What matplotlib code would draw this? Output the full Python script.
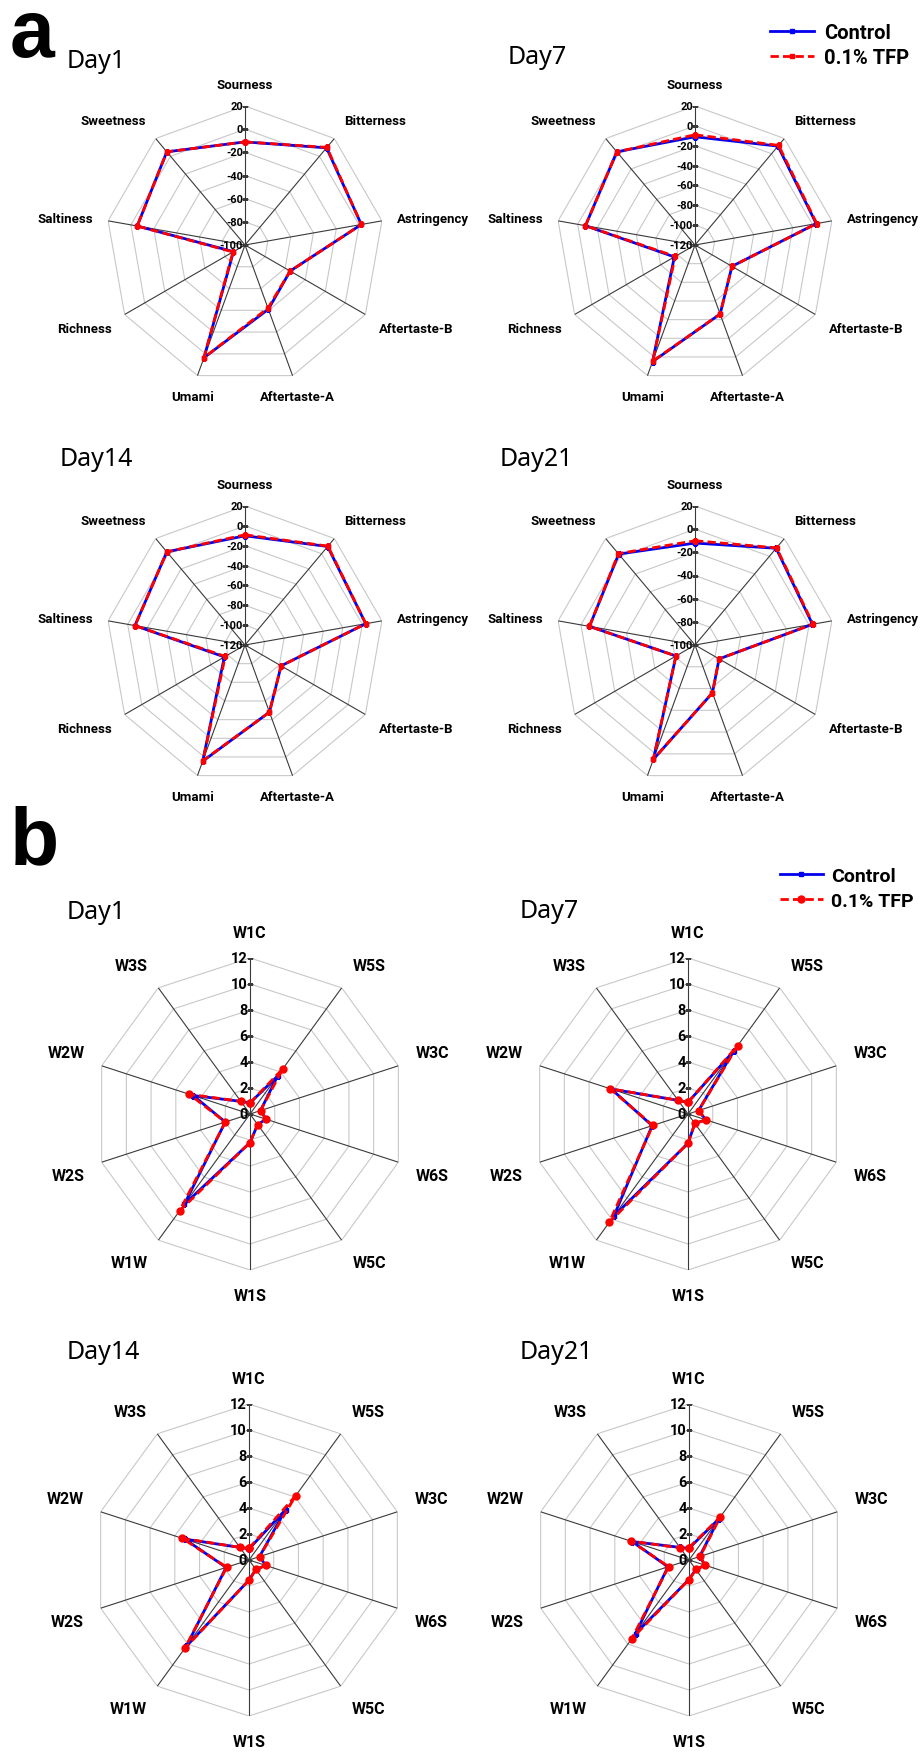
import numpy as np
import matplotlib
matplotlib.use("Agg")
import matplotlib.pyplot as plt

plt.rcParams['font.family'] = ['Roboto', 'DejaVu Sans']

W, H = 921, 1756

# ---- panel a: electronic tongue ----
taste_labels = ['Sourness', 'Bitterness', 'Astringency', 'Aftertaste-B', 'Aftertaste-A',
                'Umami', 'Richness', 'Saltiness', 'Sweetness']
taste_days = ['Day1', 'Day7', 'Day14', 'Day21']
taste_rmin = [-100, -120, -120, -100]
taste_ctrl = [
    [-11, 9.5, 2, -55, -41, 3.5, -88.5, -5.5, 5],
    [-11, 10, 4, -77, -46, 5, -96, -8, 2.5],
    [-10, 9.5, 3.5, -78, -48, 4.5, -96, -7.5, 2.5],
    [-12, 9, 3, -76, -56, 5, -81, -7.5, 2.5],
]
taste_tfp = [
    [-11, 10, 2, -55, -42, 3.5, -88, -5.5, 5],
    [-9, 11, 4.5, -77, -46, 4.5, -97, -8, 2.5],
    [-9, 10, 3.5, -78, -48, 4, -97, -7.5, 2.5],
    [-10, 9.5, 3.5, -76, -56, 5, -81, -7.5, 3],
]

# ---- panel b: electronic nose ----
sensor_labels = ['W1C', 'W5S', 'W3C', 'W6S', 'W5C', 'W1S', 'W1W', 'W2S', 'W2W', 'W3S']
sensor_days = ['Day1', 'Day7', 'Day14', 'Day21']
sensor_ctrl = [
    [0.85, 3.6, 0.85, 1.3, 1.0, 2.2, 8.6, 2.0, 4.6, 1.2],
    [0.9, 6.0, 0.85, 1.45, 0.9, 2.25, 9.7, 2.9, 6.2, 1.3],
    [0.85, 4.8, 0.85, 1.35, 0.9, 1.55, 8.2, 1.85, 5.2, 1.2],
    [0.9, 3.9, 0.85, 1.3, 0.9, 1.5, 7.0, 1.7, 4.6, 1.2],
]
sensor_tfp = [
    [0.85, 4.3, 0.85, 1.3, 1.0, 2.2, 9.2, 2.0, 4.9, 1.2],
    [0.9, 6.5, 0.85, 1.45, 0.9, 2.25, 10.3, 2.85, 6.3, 1.3],
    [0.9, 6.1, 0.85, 1.35, 0.9, 1.55, 8.4, 1.8, 5.4, 1.2],
    [0.95, 4.1, 0.9, 1.3, 0.9, 1.5, 7.5, 1.65, 4.7, 1.15],
]

BLUE = '#0000ee'
RED = '#ff0000'


def make_ax(fig, cx, cy, r):
    return fig.add_axes([(cx - r) / W, 1 - (cy + r) / H, 2 * r / W, 2 * r / H],
                        projection='polar')


def radar(ax, labels, ctrl, tfp, rmin, rmax, step, lab_fs, tick_fs, gap, tfp_marker, tfp_ms):
    n = len(labels)
    theta = np.arange(n) * 2 * np.pi / n
    th = np.append(theta, theta[0])
    ax.set_theta_zero_location('N')
    ax.set_theta_direction(-1)
    ax.set_ylim(rmin, rmax)
    ax.grid(False)
    ax.set_xticks([])
    ax.set_yticks([])
    ax.spines['polar'].set_visible(False)
    ax.patch.set_visible(False)

    levels = np.arange(rmin, rmax + step / 2, step)
    for lvl in levels[1:]:
        ax.plot(th, [lvl] * (n + 1), color='#c8c8c8', lw=0.8, zorder=1)
    for t in theta:
        ax.plot([t, t], [rmin, rmax], color='#3a3a3a', lw=0.8, zorder=1)
    ax.plot([0] * len(levels), levels, ls='none', marker='_', ms=4, mew=0.8,
            color='#3a3a3a', zorder=1)
    for lvl in levels:
        ax.annotate(f'{lvl:g}', xy=(0, lvl), xytext=(-1.5, 0), textcoords='offset points',
                    ha='right', va='center', fontsize=tick_fs, fontweight='bold',
                    annotation_clip=False, zorder=2)

    for t, lab in zip(theta, labels):
        s, c = np.sin(t), np.cos(t)
        ha = 'center' if abs(s) < 0.4 else ('left' if s > 0 else 'right')
        va = 'center' if abs(c) < 0.3 else ('bottom' if c > 0 else 'top')
        ax.annotate(lab, xy=(t, rmax), xytext=(gap * s, gap * c), textcoords='offset points',
                    ha=ha, va=va, fontsize=lab_fs, fontweight='bold', annotation_clip=False)

    lc, = ax.plot(th, np.append(ctrl, ctrl[0]), color=BLUE, lw=2.0, marker='s', ms=3.2,
                  zorder=3, label='Control')
    lt, = ax.plot(th, np.append(tfp, tfp[0]), color=RED, lw=2.0, ls=(0, (3, 1.5)),
                  marker=tfp_marker, ms=tfp_ms, zorder=4, label='0.1% TFP')
    return lc, lt


fig = plt.figure(figsize=(W / 100, H / 100), dpi=100)

a_centers = [(245, 246), (695, 246), (245, 646), (695, 646)]
a_titles = [(67, 61), (508, 58), (60, 460), (500, 460)]
for i in range(4):
    cx, cy = a_centers[i]
    ax = make_ax(fig, cx, cy, 139)
    handles = radar(ax, taste_labels, taste_ctrl[i], taste_tfp[i], taste_rmin[i], 20, 20,
                    9.5, 8, 11, 's', 3.2)
    tx, ty = a_titles[i]
    fig.text(tx / W, 1 - ty / H, taste_days[i], fontsize=18, family=['Noto Sans'],
             ha='left', va='center')
fig.legend(handles=handles, loc='upper left', bbox_to_anchor=(762 / W, 1 - 16 / H),
           frameon=False, prop={'weight': 'bold', 'size': 14.5},
           handlelength=2.2, handletextpad=0.5, labelspacing=0.3, borderaxespad=0)

b_centers = [(250, 1115), (688, 1115), (249, 1561), (689, 1561)]
b_titles = [(67, 913), (520, 912), (67, 1353), (520, 1353)]
for i in range(4):
    cx, cy = b_centers[i]
    ax = make_ax(fig, cx, cy, 156)
    handles = radar(ax, sensor_labels, sensor_ctrl[i], sensor_tfp[i], 0, 12, 2,
                    11.5, 10.5, 13, 'o', 5)
    tx, ty = b_titles[i]
    fig.text(tx / W, 1 - ty / H, sensor_days[i], fontsize=18, family=['Noto Sans'],
             ha='left', va='center')
fig.legend(handles=handles, loc='upper left', bbox_to_anchor=(772 / W, 1 - 860 / H),
           frameon=False, prop={'weight': 'bold', 'size': 14},
           handlelength=2.2, handletextpad=0.45, labelspacing=0.35, borderaxespad=0)

fig.text(10 / W, 1 - 57 / H, 'a', fontsize=58, fontweight='bold',
         family=['Liberation Sans', 'DejaVu Sans'], ha='left', va='baseline')
fig.text(10 / W, 1 - 864 / H, 'b', fontsize=58, fontweight='bold',
         family=['Liberation Sans', 'DejaVu Sans'], ha='left', va='baseline')

fig.savefig('out.png', dpi=100)
